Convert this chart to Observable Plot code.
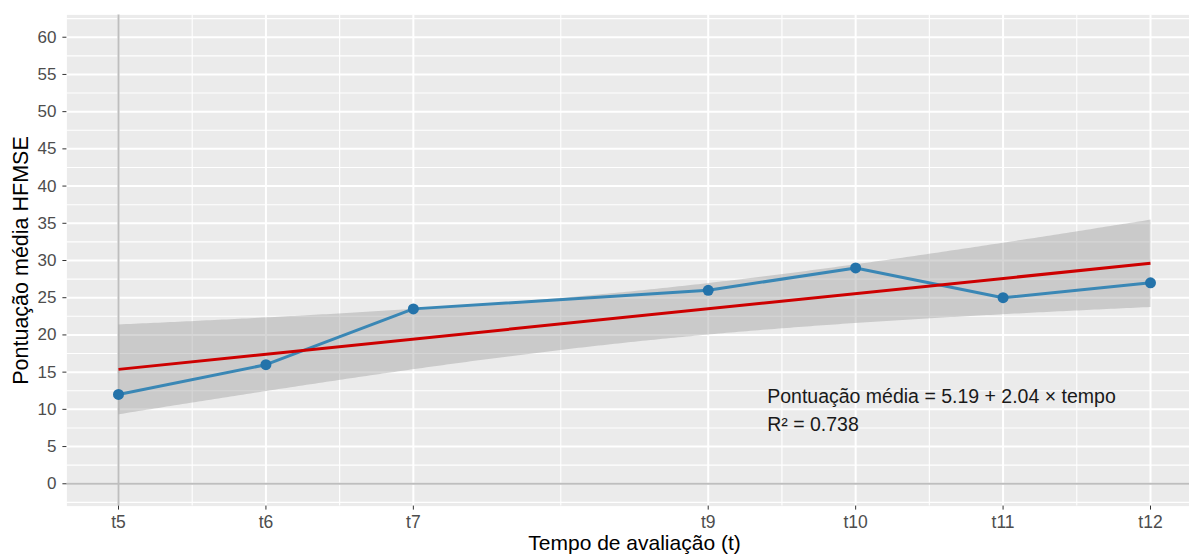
<!DOCTYPE html>
<html><head><meta charset="utf-8">
<script src="https://cdn.jsdelivr.net/npm/d3@7"></script>
<script src="https://cdn.jsdelivr.net/npm/@observablehq/plot@0.6"></script>
<style>
body{margin:0;background:#fff}
#chart svg{font-family:"Liberation Sans",Arial,sans-serif;color:#4D4D4D}
</style>
</head><body><div id="chart"></div>
<script>
const times = [5, 6, 7, 9, 10, 11, 12];
const timeLabels = ["t5", "t6", "t7", "t9", "t10", "t11", "t12"];
const scores = [12, 16, 23.5, 26, 29, 25, 27];
const yTicks = [0, 5, 10, 15, 20, 25, 30, 35, 40, 45, 50, 55, 60];
const yMinor = [-2.5, 2.5, 7.5, 12.5, 17.5, 22.5, 27.5, 32.5, 37.5, 42.5, 47.5, 52.5, 57.5, 62.5];
const xMinor = [5.5, 6.5, 8, 9.5, 10.5, 11.5];
const annotationLines = ["Pontuação média = 5.19 + 2.04 × tempo", "R² = 0.738"];
const xTitle = "Tempo de avaliação (t)";
const yTitle = "Pontuação média HFMSE";

const data = times.map((t, i) => ({t, s: scores[i]}));
const labelMap = new Map(times.map((t, i) => [t, timeLabels[i]]));

const chart = Plot.plot({
  width: 1189,
  height: 556,
  marginLeft: 66.4,
  marginRight: 0,
  marginTop: 14.4,
  marginBottom: 50.4,
  x: {domain: [4.65, 12.35], range: [66.4, 1201.6]},
  y: {domain: [-3, 63], range: [505.6, 14.4]},
  marks: [
    Plot.frame({fill: "#EBEBEB", stroke: "none"}),
    Plot.ruleY(yMinor, {stroke: "white", strokeWidth: 1.1}),
    Plot.ruleX(xMinor, {stroke: "white", strokeWidth: 1.1}),
    Plot.ruleY(yTicks, {stroke: "white", strokeWidth: 2}),
    Plot.ruleX(times, {stroke: "white", strokeWidth: 2}),
    Plot.ruleX([5], {stroke: "#BEBEBE", strokeWidth: 2}),
    Plot.ruleY([0], {stroke: "#BEBEBE", strokeWidth: 2}),
    Plot.linearRegressionY(data, {x: "t", y: "s", stroke: "none", fill: "#999999", fillOpacity: 0.4, ci: 0.95}),
    Plot.line(data, {x: "t", y: "s", stroke: "#3A87B5", strokeWidth: 3}),
    Plot.dot(data, {x: "t", y: "s", r: 5.5, fill: "#2473AA", stroke: "none"}),
    Plot.linearRegressionY(data, {x: "t", y: "s", stroke: "#CD0000", strokeWidth: 3, ci: 0, strokeLinecap: "butt"}),
    Plot.text([annotationLines.join("\n")], {x: 9.4, y: 10.2, textAnchor: "start", lineAnchor: "middle", lineHeight: 1.44, fontSize: 19.5, fill: "#1A1A1A"}),
    Plot.axisY(yTicks, {tickSize: 4, stroke: "#333333", tickFormat: () => "", label: null}),
    Plot.axisX(times, {tickSize: 4, stroke: "#333333", tickFormat: () => "", label: null}),
    Plot.text(yTicks, {y: d => d, text: d => String(d), frameAnchor: "left", dx: -10.5, textAnchor: "end", lineAnchor: "middle", fontSize: 17, fill: "#4D4D4D"}),
    Plot.text(times, {x: d => d, text: d => labelMap.get(d), frameAnchor: "bottom", dy: 9, textAnchor: "middle", lineAnchor: "top", fontSize: 17.5, fill: "#4D4D4D"}),
    Plot.text([xTitle], {x: () => 8.5, frameAnchor: "bottom", dy: 44, fontSize: 21, fill: "#000", textAnchor: "middle"}),
    Plot.text([yTitle], {frameAnchor: "left", dx: -46, rotate: -90, fontSize: 21.5, fill: "#000", textAnchor: "middle"})
  ]
});
document.getElementById("chart").appendChild(chart);
</script>
</body></html>
